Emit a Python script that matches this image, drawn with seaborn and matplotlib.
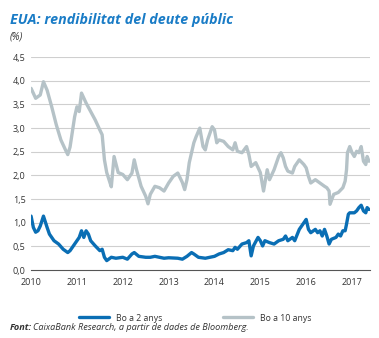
import numpy as np
import pandas as pd
import matplotlib
matplotlib.use("Agg")
import matplotlib.pyplot as plt
import seaborn as sns
from matplotlib.lines import Line2D

# --- data (decimal years, %) ---
t10 = [2010.0, 2010.1, 2010.2, 2010.27, 2010.35, 2010.45, 2010.55, 2010.65, 2010.75, 2010.8,
       2010.85, 2010.95, 2011.0, 2011.05, 2011.1, 2011.2, 2011.3, 2011.4, 2011.5, 2011.55,
       2011.6, 2011.65, 2011.7, 2011.75, 2011.81, 2011.9, 2012.0, 2012.1, 2012.2, 2012.25,
       2012.3, 2012.4, 2012.5, 2012.55, 2012.6, 2012.7, 2012.8, 2012.9, 2013.0, 2013.1,
       2013.2, 2013.3, 2013.35, 2013.4, 2013.45, 2013.5, 2013.55, 2013.6, 2013.68, 2013.75,
       2013.8, 2013.85, 2013.95, 2014.0, 2014.05, 2014.1, 2014.2, 2014.3, 2014.4, 2014.45,
       2014.5, 2014.6, 2014.7, 2014.75, 2014.8, 2014.9, 2015.0, 2015.07, 2015.15, 2015.2,
       2015.3, 2015.4, 2015.45, 2015.5, 2015.55, 2015.6, 2015.7, 2015.75, 2015.85, 2015.95,
       2016.0, 2016.05, 2016.1, 2016.2, 2016.3, 2016.4, 2016.45, 2016.5, 2016.52, 2016.6,
       2016.7, 2016.8, 2016.85, 2016.88, 2016.9, 2016.95, 2017.0, 2017.05, 2017.1, 2017.15,
       2017.2, 2017.25, 2017.3, 2017.33, 2017.37]
y10 = [3.84, 3.63, 3.70, 3.98, 3.80, 3.45, 3.07, 2.75, 2.54, 2.44,
       2.60, 3.24, 3.45, 3.35, 3.74, 3.53, 3.35, 3.17, 2.96, 2.86,
       2.33, 2.06, 1.91, 1.76, 2.40, 2.06, 2.02, 1.91, 2.05, 2.33,
       2.12, 1.77, 1.56, 1.40, 1.60, 1.77, 1.74, 1.67, 1.84, 1.98,
       2.05, 1.85, 1.70, 1.91, 2.27, 2.48, 2.69, 2.82, 3.00, 2.61,
       2.54, 2.75, 3.03, 2.96, 2.69, 2.75, 2.72, 2.61, 2.54, 2.69,
       2.51, 2.48, 2.61, 2.44, 2.19, 2.27, 2.06, 1.67, 2.12, 1.91,
       2.12, 2.40, 2.48, 2.37, 2.19, 2.09, 2.05, 2.19, 2.33, 2.23,
       2.16, 1.98, 1.84, 1.91, 1.84, 1.77, 1.74, 1.67, 1.39, 1.60,
       1.64, 1.74, 1.88, 2.12, 2.48, 2.61, 2.48, 2.40, 2.51, 2.48,
       2.61, 2.30, 2.23, 2.40, 2.30]

t2 = [2010.0, 2010.05, 2010.1, 2010.15, 2010.2, 2010.27, 2010.35, 2010.4, 2010.5, 2010.6,
      2010.7, 2010.8, 2010.85, 2010.95, 2011.0, 2011.05, 2011.1, 2011.15, 2011.2, 2011.25,
      2011.3, 2011.4, 2011.5, 2011.55, 2011.6, 2011.65, 2011.75, 2011.85, 2012.0, 2012.1,
      2012.2, 2012.25, 2012.35, 2012.5, 2012.6, 2012.7, 2012.8, 2012.9, 2013.0, 2013.2,
      2013.3, 2013.4, 2013.5, 2013.55, 2013.65, 2013.8, 2013.9, 2014.0, 2014.1, 2014.2,
      2014.3, 2014.4, 2014.45, 2014.5, 2014.6, 2014.7, 2014.75, 2014.8, 2014.85, 2014.95,
      2015.0, 2015.05, 2015.1, 2015.2, 2015.3, 2015.4, 2015.5, 2015.55, 2015.6, 2015.7,
      2015.75, 2015.85, 2015.95, 2016.0, 2016.05, 2016.1, 2016.2, 2016.25, 2016.3, 2016.35,
      2016.4, 2016.45, 2016.5, 2016.55, 2016.65, 2016.7, 2016.75, 2016.8, 2016.85, 2016.88,
      2016.92, 2016.95, 2017.0, 2017.05, 2017.1, 2017.15, 2017.2, 2017.25, 2017.3, 2017.33,
      2017.37]
y2 = [1.14, 0.90, 0.80, 0.83, 0.93, 1.14, 0.90, 0.76, 0.62, 0.55,
      0.44, 0.37, 0.41, 0.55, 0.62, 0.69, 0.83, 0.69, 0.83, 0.76,
      0.62, 0.51, 0.41, 0.44, 0.27, 0.20, 0.27, 0.25, 0.27, 0.23,
      0.34, 0.37, 0.29, 0.27, 0.27, 0.29, 0.27, 0.25, 0.26, 0.25,
      0.23, 0.29, 0.37, 0.34, 0.27, 0.25, 0.27, 0.29, 0.34, 0.37,
      0.43, 0.41, 0.48, 0.44, 0.55, 0.58, 0.62, 0.30, 0.51, 0.69,
      0.62, 0.51, 0.62, 0.58, 0.55, 0.62, 0.65, 0.72, 0.62, 0.69,
      0.62, 0.86, 1.00, 1.07, 0.86, 0.79, 0.86, 0.79, 0.83, 0.72,
      0.86, 0.72, 0.55, 0.65, 0.69, 0.76, 0.72, 0.83, 0.83, 0.97,
      1.18, 1.21, 1.21, 1.21, 1.25, 1.32, 1.37, 1.25, 1.21, 1.32,
      1.28]

series_names = ["Bo a 2 anys", "Bo a 10 anys"]
year_ticks = [2010, 2011, 2012, 2013, 2014, 2015, 2016, 2017]
y_ticks = [0.0, 0.5, 1.0, 1.5, 2.0, 2.5, 3.0, 3.5, 4.0, 4.5]

df = pd.concat([
    pd.DataFrame({"t": t2, "v": y2, "serie": series_names[0]}),
    pd.DataFrame({"t": t10, "v": y10, "serie": series_names[1]}),
])

sns.set_theme(style="white")
plt.rcParams['font.family'] = ['Open Sans', 'DejaVu Sans']

BLUE = "#0a6eb4"
GREY = "#b5c2c7"
TXT = "#333333"

fig = plt.figure(figsize=(3.79, 3.38), dpi=100)
ax = fig.add_axes([0.082, 0.201, 0.894, 0.630])

sns.lineplot(data=df, x="t", y="v", hue="serie", hue_order=series_names,
             palette=[BLUE, GREY], linewidth=2.4, ax=ax, legend=False, sort=False)

ax.set_xlim(2010.0, 2017.39)
ax.set_ylim(0, 4.5)
ax.set_yticks(y_ticks)
ax.set_yticklabels([f"{v:.1f}".replace(".", ",") for v in y_ticks], fontsize=6.5, color=TXT)
ax.set_xticks(year_ticks)
ax.set_xticklabels([str(y) for y in year_ticks], fontsize=6.5, color=TXT)
for v in y_ticks[1:]:
    ax.axhline(v, color="#cfcfcf", lw=0.8, zorder=0)
ax.set_xlabel("")
ax.set_ylabel("")
for s in ["top", "right", "left"]:
    ax.spines[s].set_visible(False)
ax.spines["bottom"].set_color("#555555")
ax.spines["bottom"].set_linewidth(0.8)
ax.tick_params(axis="x", direction="out", length=3, width=0.8, color="#555555", pad=3)
ax.tick_params(axis="y", length=0, pad=4)
ax.set_facecolor("none")

fig.text(0.026, 0.94, "EUA: rendibilitat del deute públic", fontsize=10.3,
         fontweight="bold", fontstyle="italic", color="#1a7cc6", va="center")
fig.text(0.026, 0.89, "(%)", fontsize=7, fontstyle="italic", color=TXT, va="center")

handles = [Line2D([], [], color=BLUE, lw=2.4), Line2D([], [], color=GREY, lw=2.4)]
fig.legend(handles, series_names, loc="center", bbox_to_anchor=(0.515, 0.059),
           ncol=2, frameon=False, fontsize=6.3, handlelength=3.4, columnspacing=7.0,
           handletextpad=0.8, labelcolor=TXT)

fig.text(0.026, 0.032, "Font:", fontsize=6.6, fontweight="bold", fontstyle="italic",
         color=TXT, va="center")
fig.text(0.087, 0.032, "CaixaBank Research, a partir de dades de Bloomberg.", fontsize=6.6,
         fontstyle="italic", color=TXT, va="center")

fig.savefig("out.png", dpi=100)
